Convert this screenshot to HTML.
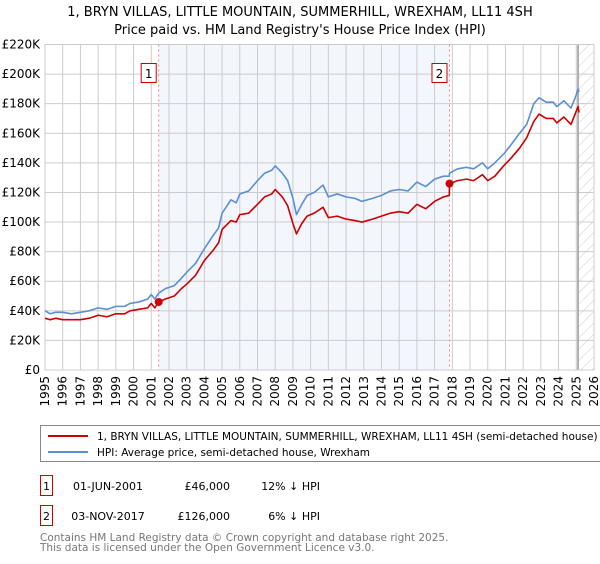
<!DOCTYPE html>
<html><head><meta charset="utf-8"><style>
body{margin:0;background:#fff;font-family:"DejaVu Sans","Liberation Sans",sans-serif;}
svg text{font-family:"DejaVu Sans","Liberation Sans",sans-serif;}
</style></head><body>
<svg id="chart" width="600" height="560" viewBox="0 0 600 560" xmlns="http://www.w3.org/2000/svg">
<defs><pattern id="hatch" patternUnits="userSpaceOnUse" width="8" height="8" patternTransform="rotate(45)"><line x1="0" y1="0" x2="0" y2="8" stroke="#ccc" stroke-width="1"/></pattern></defs>
<text x="300" y="16" text-anchor="middle" font-size="13">1, BRYN VILLAS, LITTLE MOUNTAIN, SUMMERHILL, WREXHAM, LL11 4SH</text>
<text x="300" y="34" text-anchor="middle" font-size="13">Price paid vs. HM Land Registry's House Price Index (HPI)</text>
<g id="plot"></g>
<rect x="40.5" y="425.5" width="562" height="36" fill="#fff" stroke="#888"/>
<line x1="48" y1="436" x2="88" y2="436" stroke="#cc0000" stroke-width="2"/>
<text x="97" y="440" font-size="10.5">1, BRYN VILLAS, LITTLE MOUNTAIN, SUMMERHILL, WREXHAM, LL11 4SH (semi-detached house)</text>
<line x1="48" y1="452" x2="88" y2="452" stroke="#5b8fd4" stroke-width="2"/>
<text x="97" y="456" font-size="10.5">HPI: Average price, semi-detached house, Wrexham</text>
<g font-size="11">
<rect x="40.5" y="475.5" width="12" height="20" fill="#fff" stroke="#cc0000"/>
<text x="46.5" y="490" text-anchor="middle">1</text>
<text x="108" y="490" text-anchor="middle">01-JUN-2001</text>
<text x="230" y="490" text-anchor="end">£46,000</text>
<text x="320" y="490" text-anchor="end">12% ↓ HPI</text>
</g>
<g font-size="11">
<rect x="40.5" y="505.5" width="12" height="20" fill="#fff" stroke="#cc0000"/>
<text x="46.5" y="520" text-anchor="middle">2</text>
<text x="108" y="520" text-anchor="middle">03-NOV-2017</text>
<text x="230" y="520" text-anchor="end">£126,000</text>
<text x="320" y="520" text-anchor="end">6% ↓ HPI</text>
</g>
<text x="40" y="541" font-size="10.5" fill="#777">Contains HM Land Registry data © Crown copyright and database right 2025.</text>
<text x="40" y="551" font-size="10.5" fill="#777">This data is licensed under the Open Government Licence v3.0.</text>
</svg>
<script>
const times=[1995.0,1995.3,1995.6,1996.0,1996.5,1997.0,1997.5,1998.0,1998.5,1999.0,1999.5,1999.8,2000.3,2000.8,2001.0,2001.2,2001.42,2001.8,2002.3,2002.7,2003.0,2003.5,2004.0,2004.5,2004.8,2005.0,2005.5,2005.8,2006.0,2006.5,2007.0,2007.4,2007.8,2008.0,2008.4,2008.7,2009.0,2009.2,2009.5,2009.8,2010.2,2010.7,2011.0,2011.5,2012.0,2012.5,2012.9,2013.5,2014.0,2014.5,2015.0,2015.5,2016.0,2016.5,2017.0,2017.5,2017.83,2017.84,2018.3,2018.8,2019.2,2019.7,2020.0,2020.4,2020.9,2021.3,2021.8,2022.2,2022.6,2022.9,2023.3,2023.7,2023.9,2024.3,2024.7,2025.0,2025.1,2025.15];
const hpiValues=[40,38,39,39,38,39,40,42,41,43,43,45,46,48,51,48,52,55,57,62,66,72,82,91,96,106,115,113,119,121,128,133,135,138,133,128,116,105,112,118,120,125,117,119,117,116,114,116,118,121,122,121,127,124,129,131,131,133,136,137,136,140,136,140,146,152,160,166,180,184,181,181,178,182,177,186,190,188];
const propertyValues=[35,34,35,34,34,34,35,37,36,38,38,40,41,42,45,42,46,48,50,55,58,64,74,81,86,95,101,100,105,106,112,117,119,122,117,111,99,92,99,104,106,110,103,104,102,101,100,102,104,106,107,106,112,109,114,117,118,126,128,129,128,132,128,131,138,143,150,157,168,173,170,170,167,171,166,175,178,174];
const saleTimes=[2001.42,2017.84];
const salePrices=[46,126];
const saleLabels=["1","2"];
const yTicks=[0,20,40,60,80,100,120,140,160,180,200,220];
const yTickLabels=["£0","£20K","£40K","£60K","£80K","£100K","£120K","£140K","£160K","£180K","£200K","£220K"];
const xYears=[];for(let y=1995;y<=2026;y++)xYears.push(y);
const L=45,R=594,T=44.5,B=370,X0=1995,X1=2026,Y1=220,forecast=2025.1;
const xs=t=>L+(t-X0)/(X1-X0)*(R-L);
const ys=v=>B-v/Y1*(B-T);
const NS="http://www.w3.org/2000/svg";
const plot=document.getElementById('plot');
function mk(tag,attrs,parent){const e=document.createElementNS(NS,tag);for(const k in attrs)e.setAttribute(k,attrs[k]);(parent||plot).appendChild(e);return e;}
const bg=mk('rect',{x:xs(saleTimes[0]),y:T,width:xs(saleTimes[1])-xs(saleTimes[0]),height:B-T,fill:'#f3f6fd'});


const hz=mk('rect',{x:xs(forecast),y:T,width:R-xs(forecast),height:B-T,fill:'url(#hatch)'});


xYears.forEach(y=>{const g=mk('line',{x1:xs(y),x2:xs(y),y1:T,y2:B,stroke:'#ccc','stroke-width':1});


const t=mk('text',{x:0,y:0,'font-size':12,'text-anchor':'end',transform:`translate(${xs(y)+4},${B+6}) rotate(-90)`});t.textContent=y;

});
yTicks.forEach((v,i)=>{const g=mk('line',{x1:L,x2:R,y1:ys(v),y2:ys(v),stroke:'#ccc','stroke-width':1});


const t=mk('text',{x:L-5,y:ys(v)+4,'font-size':12,'text-anchor':'end'});t.textContent=yTickLabels[i];

});
const fl=mk('line',{x1:xs(forecast),x2:xs(forecast),y1:T,y2:B,stroke:'#999','stroke-width':1.5});


const fr=mk('rect',{x:L,y:T,width:R-L,height:B-T,fill:'none',stroke:'#ccc'});


saleTimes.forEach((t,i)=>{const l=mk('line',{x1:xs(t),x2:xs(t),y1:T,y2:B,stroke:'#e88','stroke-dasharray':'2,3','stroke-width':1});


const r=mk('rect',{x:xs(t)-17.5,y:63.5,width:15,height:19,fill:'#fff',stroke:'#cc0000'});


const tx=mk('text',{x:xs(t)-10,y:78,'font-size':12,'text-anchor':'middle'});tx.textContent=saleLabels[i];

});
function line(vals,color,name){const p=mk('polyline',{points:times.map((t,i)=>xs(t)+','+ys(vals[i])).join(' '),fill:'none',stroke:color,'stroke-width':1.6,'stroke-linejoin':'round'});

}
line(hpiValues,'#5b8fd4','hpi-line');
line(propertyValues,'#cc0000','property-line');
saleTimes.forEach((t,i)=>{const c=mk('circle',{cx:xs(t),cy:ys(salePrices[i]),r:4,fill:'#cc0000'});

});
</script>
</body></html>
